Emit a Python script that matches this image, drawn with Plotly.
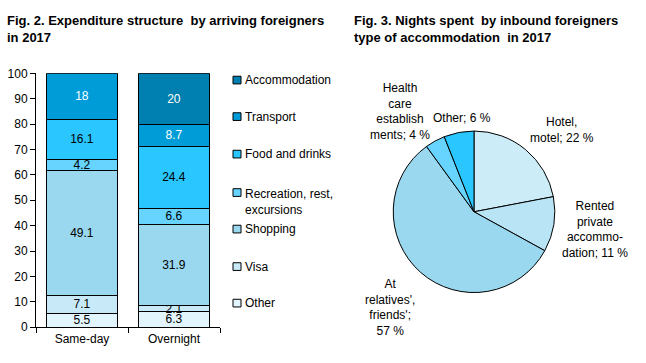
import plotly.graph_objects as go

categories = ["Same-day", "Overnight"]
series_names = ["Other", "Visa", "Shopping", "Recreation, rest,<br>excursions",
                "Food and drinks", "Transport", "Accommodation"]
other_vals = [5.5, 6.3]
visa_vals = [7.1, 2.1]
shopping_vals = [49.1, 31.9]
recreation_vals = [4.2, 6.6]
food_vals = [16.1, 24.4]
transport_vals = [18, 8.7]
accommodation_vals = [None, 20]

series_values = [other_vals, visa_vals, shopping_vals, recreation_vals,
                 food_vals, transport_vals, accommodation_vals]
series_colors = ["#E2F4FC", "#C8EAF8", "#9AD8F0", "#66D4FF",
                 "#2AC6FF", "#009CD8", "#0080B0"]
text_colors = ["black", "black", "black", "black", "black", "white", "white"]

pie_labels = ["Hotel, motel", "Rented private accommodation",
              "At relatives', friends'", "Health care establishments", "Other"]
pie_values = [22, 11, 57, 4, 6]
pie_label_text = ["Hotel,<br>motel; 22 %", "Rented<br>private<br>accommo-<br>dation; 11 %",
                  "At<br>relatives',<br>friends';<br>57 %",
                  "Health<br>care<br>establish<br>ments; 4 %", "Other; 6 %"]
pie_colors = ["#CCECF8", "#B8E4F5", "#9AD8F0", "#66D4FF", "#2AC6FF"]

W, H = 646, 363
FONT = "Liberation Sans, Arial, sans-serif"

def px_x(x):
    return x / W

def px_y(y):
    return 1 - y / H

fig = go.Figure()

for i, (name, vals) in enumerate(zip(series_names, series_values)):
    fig.add_trace(go.Bar(
        x=categories, y=vals, name=name,
        marker=dict(color=series_colors[i], line=dict(color="black", width=1)),
        text=[("" if v is None else f"{v:g}") for v in vals],
        textposition="inside", insidetextanchor="middle",
        constraintext="none",
        textfont=dict(color=text_colors[i], size=12, family=FONT),
        width=0.77, showlegend=False,
        xaxis="x", yaxis="y",
    ))

fig.add_trace(go.Pie(
    labels=pie_labels, values=pie_values, sort=False, direction="clockwise",
    rotation=0, textinfo="none", showlegend=False,
    marker=dict(colors=pie_colors, line=dict(color="black", width=1)),
    domain=dict(x=[px_x(390), px_x(558)], y=[px_y(297), px_y(129)]),
    hoverinfo="label+percent",
))

annotations = [
    dict(text="<b>Fig. 2. Expenditure structure  by arriving foreigners<br>in 2017</b>",
         x=px_x(5), y=px_y(4), xref="paper", yref="paper", xanchor="left", yanchor="top",
         showarrow=False, align="left", font=dict(size=13, family=FONT, color="black")),
    dict(text="<b>Fig. 3. Nights spent  by inbound foreigners<br>type of accommodation  in 2017</b>",
         x=px_x(352), y=px_y(4), xref="paper", yref="paper", xanchor="left", yanchor="top",
         showarrow=False, align="left", font=dict(size=13, family=FONT, color="black")),
]

pie_label_pos = [(562, 128), (595, 231), (390, 313), (400, 109), (462, 115)]
for txt, (lx, ly) in zip(pie_label_text, pie_label_pos):
    annotations.append(dict(text=txt, x=px_x(lx), y=px_y(ly), xref="paper", yref="paper",
                            xanchor="center", yanchor="middle", showarrow=False, align="center",
                            font=dict(size=12, family=FONT, color="black")))

# custom legend (top to bottom: Accommodation ... Other)
shapes = []
legend_y = [308, 270, 231, 193, 153, 114, 76]  # for series index 0..6
for i, name in enumerate(series_names):
    cy = legend_y[i]
    shapes.append(dict(type="rect", xref="paper", yref="paper",
                       x0=px_x(233), x1=px_x(241), y0=px_y(cy + 4), y1=px_y(cy - 4),
                       fillcolor=series_colors[i], line=dict(color="black", width=1)))
    ya = "top" if "<br>" in name else "middle"
    yy = cy - 8 if "<br>" in name else cy
    annotations.append(dict(text=name, x=px_x(243), y=px_y(yy), xref="paper", yref="paper",
                            xanchor="left", yanchor=ya, showarrow=False, align="left",
                            font=dict(size=12, family=FONT, color="black")))

fig.update_layout(
    width=W, height=H, autosize=False,
    margin=dict(l=0, r=0, t=0, b=0),
    paper_bgcolor="white", plot_bgcolor="white",
    barmode="stack",
    font=dict(family=FONT, size=12, color="black"),
    xaxis=dict(domain=[px_x(36), px_x(220)], range=[-0.5, 1.5], type="category",
               showline=True, linecolor="black", linewidth=1,
               ticks="outside", ticklen=5, tickcolor="black", tickson="boundaries",
               showgrid=False, tickfont=dict(size=12, family=FONT)),
    yaxis=dict(domain=[px_y(333), px_y(69)], range=[0, 100], dtick=10,
               showline=True, linecolor="black", linewidth=1,
               ticks="outside", ticklen=5, tickcolor="black",
               showgrid=False, zeroline=False, tickfont=dict(size=12, family=FONT)),
    annotations=annotations,
    shapes=shapes,
    showlegend=False,
)

fig.write_html(
    "out.html",
    config={"displayModeBar": False},
    post_script="document.body.style.margin='0';document.body.style.overflow='hidden';",
)
